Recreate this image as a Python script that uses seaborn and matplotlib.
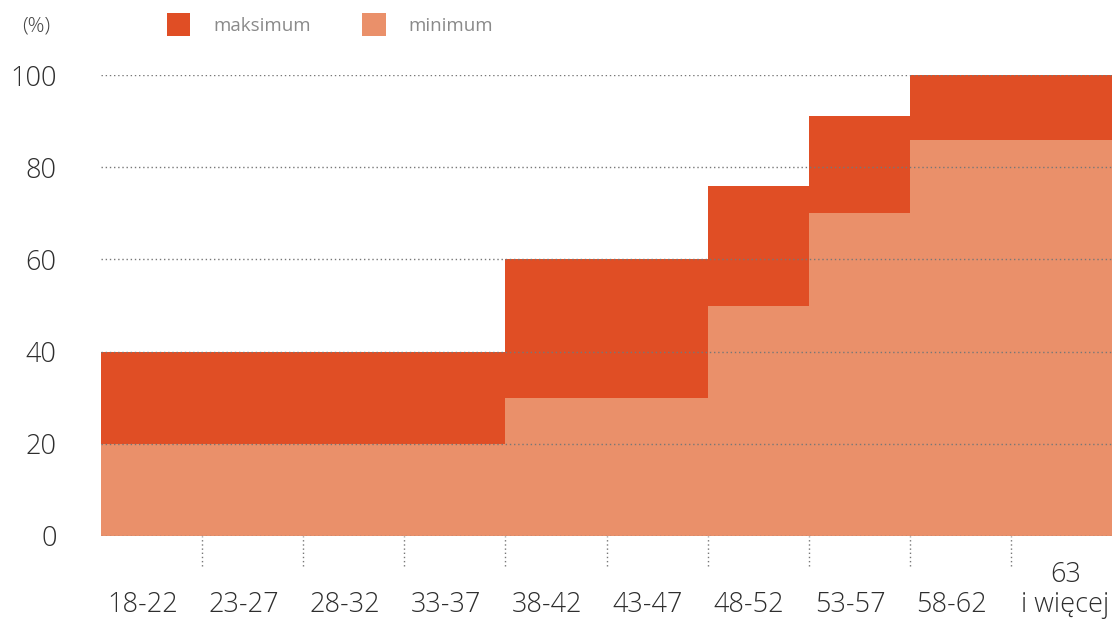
import numpy as np
import pandas as pd
import seaborn as sns
import matplotlib.pyplot as plt
import matplotlib.transforms as mtransforms
from matplotlib.patches import Patch

# age groups and retirement-contribution ranges (%)
age_groups = ["18-22", "23-27", "28-32", "33-37", "38-42", "43-47",
              "48-52", "53-57", "58-62", "63\ni więcej"]
maksimum = [40, 40, 40, 40, 60, 60, 76, 91, 100, 100]
minimum = [20, 20, 20, 20, 30, 30, 50, 70, 86, 86]
y_ticks = [0, 20, 40, 60, 80, 100]

dark = "#E04E25"
light = "#EA906A"

sns.set_style("white")
plt.rcParams['font.family'] = ['Open Sans', 'DejaVu Sans']
plt.rcParams['font.weight'] = 'light'

df = pd.DataFrame({"grupa": age_groups, "maks": maksimum, "min": minimum})

fig = plt.figure(figsize=(11.12, 6.19), dpi=100)
ax = fig.add_axes([101 / 1112, 1 - 536 / 619, 1 - 101 / 1112, (536 - 75) / 619])

# step areas = touching bars
sns.barplot(data=df, x="grupa", y="maks", color=dark, width=1, saturation=1,
            linewidth=0, ax=ax)
sns.barplot(data=df, x="grupa", y="min", color=light, width=1, saturation=1,
            linewidth=0, ax=ax)

ax.set_xlim(-0.5, len(age_groups) - 0.5)
ax.set_ylim(0, 100)
ax.set_yticks(y_ticks)
ax.set_xlabel("")
ax.set_ylabel("")
sns.despine(ax=ax, left=True, bottom=True, right=True, top=True)

# dotted grid on top of the areas
ax.set_axisbelow(False)
ax.yaxis.grid(True, linestyle=(0, (1, 2)), color="#777777", linewidth=1)
ax.xaxis.grid(False)

ax.tick_params(axis="y", length=0, pad=32, labelsize=19.5, labelcolor="#2e2e2e")
ax.tick_params(axis="x", length=0, pad=59.5, labelsize=19.5, labelcolor="#2e2e2e")
for i, lbl in enumerate(ax.get_xticklabels()):
    lbl.set_va("bottom")
    lbl.set_linespacing(1.1)
    dx = 4 if i == len(age_groups) - 1 else -9
    lbl.set_transform(lbl.get_transform()
                      + mtransforms.ScaledTranslation(dx / 100, 0, fig.dpi_scale_trans))

# dotted separators below the axis
bounds = np.arange(len(age_groups) - 1) + 0.5
ax.vlines(bounds, -0.065, 0, transform=ax.get_xaxis_transform(), clip_on=False,
          colors="#777777", linestyles=(0, (1, 2)), linewidth=1)

fig.text(22 / 1112, 1 - 27 / 619, "(%)", fontsize=15, color="#444444", va="center")

handles = [Patch(facecolor=dark, edgecolor="none"), Patch(facecolor=light, edgecolor="none")]
leg = fig.legend(handles, ["maksimum", "minimum"], loc="upper left",
                 bbox_to_anchor=(167 / 1112, 1 - 13 / 619), ncol=2, frameon=False,
                 prop={"size": 13.5, "weight": "normal"},
                 handlelength=1.25, handleheight=1.5, handletextpad=1.2,
                 columnspacing=2.75, borderpad=0, borderaxespad=0)
for t in leg.get_texts():
    t.set_color("#8a8a8a")

fig.savefig("out.png", dpi=100)
